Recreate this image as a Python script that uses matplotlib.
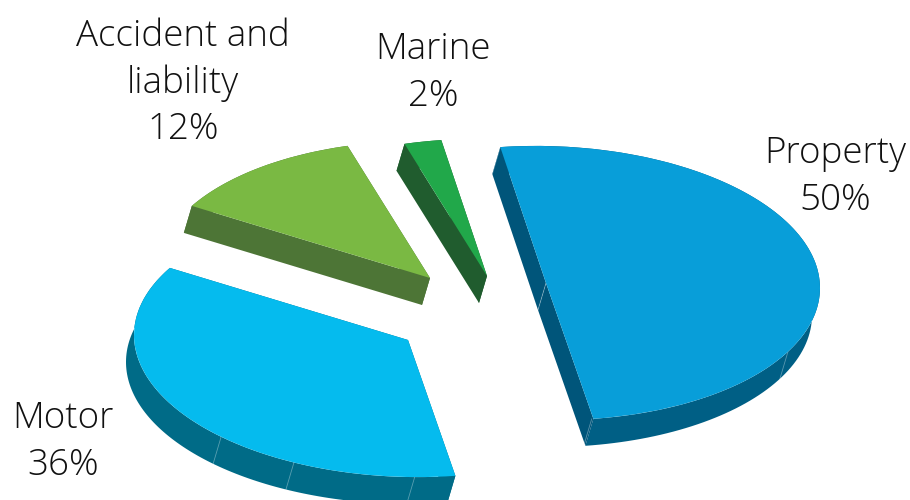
import numpy as np
import matplotlib
matplotlib.use("Agg")
import matplotlib.pyplot as plt
from matplotlib.transforms import Affine2D

# slices, clockwise from the top
names = ["Property", "Motor", "Accident and\nliability", "Marine"]
shares = [49.9, 36.0, 11.9, 2.2]  # as measured off the slices, labels are rounded

top_colors = ["#089ed9", "#05bbee", "#7ab943", "#21a84a"]
arc_colors = ["#005f85", "#006b87", "#4d7536", "#205c2e"]
cut_colors = ["#00557a", "#006b87", "#4d7536", "#205c2e"]

# apex of each exploded slice, in pixels
apex_x = [546, 408, 430, 487]
apex_y = [283, 340, 278, 276]
label_x = [835, 63, 183, 433]
label_y = [177, 442, 83, 73]

# thin seams on the rim (angle on the unit circle)
seams = [[-80.4, -28, 99.6], [-133, -114.6, -88.6], [], []]

RX, RY, SHEAR = 274, 137, 5
DX, DY = -8, 27  # thickness of the pie

plt.rcParams["font.family"] = ["Open Sans", "DejaVu Sans"]

fig = plt.figure(figsize=(9.1, 5), dpi=100)
ax = fig.add_axes([0, 0, 1, 1])

wedges, _ = ax.pie(shares, startangle=99.6, counterclock=False, radius=1, colors=top_colors)

ax.set_aspect("auto")
ax.set_xlim(0, 910)
ax.set_ylim(500, 0)
ax.axis("off")


def to_px(i, deg, r=1.0):
    t = np.radians(deg)
    u, v = r * np.cos(t), r * np.sin(t)
    return apex_x[i] + RX * u, apex_y[i] + SHEAR * u - RY * v


for i, w in enumerate(wedges):
    # rim and the two cut faces go under the top face
    angles = np.linspace(w.theta1, w.theta2, 120)
    x, y = to_px(i, angles)
    ax.fill(np.r_[x, (x + DX)[::-1]], np.r_[y, (y + DY)[::-1]], color=arc_colors[i], lw=0, zorder=2)
    for deg in (w.theta1, w.theta2):
        ex, ey = to_px(i, deg)
        ax.fill([apex_x[i], ex, ex + DX, apex_x[i] + DX],
                [apex_y[i], ey, ey + DY, apex_y[i] + DY],
                color=cut_colors[i], lw=0, zorder=3)
    for deg in seams[i]:
        ex, ey = to_px(i, deg)
        ax.plot([ex, ex + DX], [ey, ey + DY], color="white", alpha=0.35, lw=0.6, zorder=4)
    if i == 0:
        ax.plot([apex_x[i], apex_x[i] + DX], [apex_y[i], apex_y[i] + DY],
                color="white", alpha=0.35, lw=0.6, zorder=4)

    # top face: the pie wedge itself, squashed into the tilted ellipse
    m = Affine2D.from_values(RX, SHEAR, 0, -RY, apex_x[i], apex_y[i])
    w.set_transform(m + ax.transData)
    w.set_zorder(5)
    w.set_linewidth(0)

    ax.text(label_x[i], label_y[i], f"{names[i]}\n{shares[i]:.0f}%", ha="center", va="center",
            fontsize=26.5, fontweight="light", color="#111111", linespacing=1.33, zorder=6)

fig.savefig("out.png", dpi=100)
